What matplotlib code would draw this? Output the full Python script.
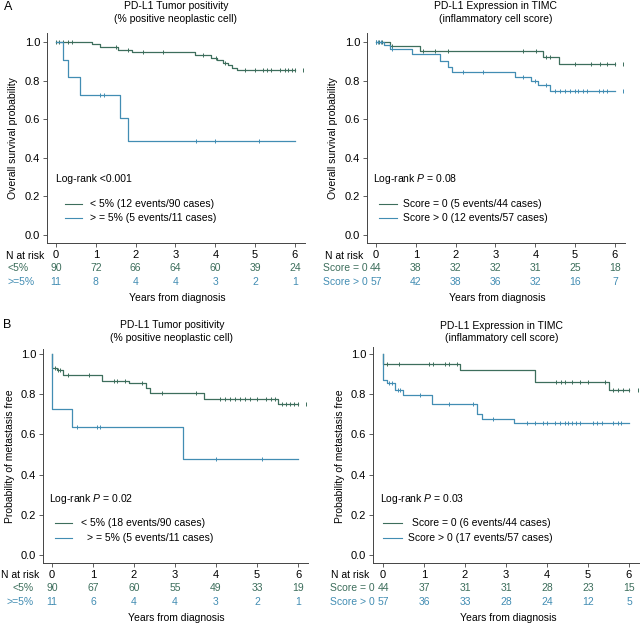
import numpy as np
import matplotlib
matplotlib.use("Agg")
import matplotlib.pyplot as plt
from matplotlib.lines import Line2D
from matplotlib.transforms import blended_transform_factory

plt.rcParams['font.family'] = ['Liberation Sans', 'DejaVu Sans']
plt.rcParams['font.size'] = 7.5
plt.rcParams['mathtext.fontset'] = 'custom'
plt.rcParams['mathtext.rm'] = 'Liberation Sans'
plt.rcParams['mathtext.it'] = 'Liberation Sans:italic'

GREEN = "#3d6e5c"
BLUE = "#428db3"

years = [0, 1, 2, 3, 4, 5, 6]

# --- A left: overall survival by tumour positivity
a_lo_t = [0, 0.9, 1.1, 1.56, 1.9, 3.49, 3.89, 4.03, 4.2, 4.31, 4.43, 4.55, 6.0]
a_lo_s = [1.0, 0.988, 0.972, 0.958, 0.946, 0.932, 0.918, 0.906, 0.892, 0.88, 0.866, 0.854, 0.854]
a_lo_c = [0, 0.08, 0.18, 0.29, 0.39, 1.51, 1.8, 2.19, 2.69, 3.7, 4.02, 4.25, 4.74, 5.0,
          5.2, 5.29, 5.41, 5.62, 5.75, 5.83, 5.93, 6.0, 6.21]
a_hi_t = [0, 0.18, 0.31, 0.6, 1.61, 1.8, 6.0]
a_hi_s = [1.0, 0.909, 0.818, 0.727, 0.606, 0.485, 0.485]
a_hi_c = [1.1, 1.2, 3.51, 4.0, 5.1]
a_lo_risk = [90, 72, 66, 64, 60, 39, 24]
a_hi_risk = [11, 8, 4, 4, 3, 2, 1]

# --- A right: overall survival by TIMC score
a_s0_t = [0, 0.35, 1.1, 4.2, 4.6, 6.0]
a_s0_s = [1.0, 0.977, 0.953, 0.922, 0.886, 0.886]
a_s0_c = [0, 0.08, 0.15, 0.4, 1.19, 1.48, 1.8, 3.7, 4.02, 4.28, 4.36, 5.0, 5.41,
          5.62, 5.8, 6.0, 6.21]
a_sp_t = [0, 0.2, 0.35, 0.9, 1.6, 1.8, 1.9, 3.49, 3.9, 4.06, 4.38, 6.0]
a_sp_s = [1.0, 0.982, 0.965, 0.936, 0.9, 0.87, 0.843, 0.82, 0.80, 0.775, 0.745, 0.745]
a_sp_c = [0, 0.05, 0.12, 0.4, 2.19, 2.69, 3.7, 3.98, 4.28, 4.5, 4.62, 4.75, 4.87,
          5.0, 5.08, 5.2, 5.29, 5.6, 5.69, 5.79, 6.21]
a_s0_risk = [44, 38, 32, 32, 31, 25, 18]
a_sp_risk = [57, 42, 38, 36, 32, 16, 7]

# --- B left: metastasis free by tumour positivity
b_lo_t = [0, 0, 0.12, 0.28, 1.22, 1.89, 2.3, 2.39, 3.71, 5.51, 6.0]
b_lo_s = [1.0, 0.932, 0.92, 0.895, 0.866, 0.854, 0.829, 0.807, 0.778, 0.751, 0.751]
b_lo_c = [0.08, 0.14, 0.2, 0.39, 0.91, 1.5, 1.58, 1.78, 2.19, 2.69, 3.51, 4.1, 4.22,
          4.34, 4.46, 4.58, 4.7, 4.82, 4.99, 5.23, 5.33, 5.43, 5.6, 5.7, 5.8, 5.9, 6.0, 6.2]
b_hi_t = [0, 0, 0.49, 3.2, 6.0]
b_hi_s = [1.0, 0.727, 0.636, 0.477, 0.477]
b_hi_c = [0.61, 1.09, 1.18, 4.01, 5.13]
b_lo_risk = [90, 67, 60, 55, 49, 33, 19]
b_hi_risk = [11, 6, 4, 4, 3, 2, 1]

# --- B right: metastasis free by TIMC score
b_s0_t = [0, 0, 1.88, 3.71, 5.5, 6.0]
b_s0_s = [1.0, 0.95, 0.918, 0.863, 0.82, 0.82]
b_s0_c = [0.1, 0.4, 1.11, 1.23, 1.52, 1.6, 1.8, 4.22, 4.33, 4.44, 4.6, 4.8, 5.0,
          5.41, 5.61, 5.73, 5.86, 6.0, 6.22]
b_sp_t = [0, 0, 0.1, 0.3, 0.49, 1.19, 2.29, 2.41, 3.2, 6.0]
b_sp_s = [1.0, 0.873, 0.857, 0.821, 0.796, 0.749, 0.70, 0.676, 0.655, 0.655]
b_sp_c = [0.14, 0.22, 0.36, 0.42, 0.91, 1.6, 2.19, 2.69, 3.5, 3.7, 3.9, 4.0, 4.2,
          4.32, 4.44, 4.52, 4.6, 4.7, 4.8, 5.13, 5.23, 5.33, 5.61, 5.72, 5.81]
b_s0_risk = [44, 37, 31, 31, 28, 23, 15]
b_sp_risk = [57, 36, 33, 28, 24, 12, 5]

W, H = 640, 624
fig = plt.figure(figsize=(6.4, 6.24), dpi=100)


def fx(x):
    return x / W


def fy(y):
    return 1 - y / H


def km(ax, t, s, cens, color):
    ax.step(t, s, where='post', color=color, lw=0.9)
    t = np.asarray(t)
    s = np.asarray(s)
    idx = np.searchsorted(t, cens, side='right') - 1
    ax.plot(cens, s[idx], ls='none', marker='|', ms=3.5, mew=0.7, color=color)


def panel(left, top, right, bottom, x0, pxyr, y1, y0):
    ax = fig.add_axes([fx(left), fy(bottom), (right - left) / W, (bottom - top) / H])
    ax.set_xlim((left - x0) / pxyr, (right - x0) / pxyr)
    ax.set_ylim((y0 - bottom) / (y0 - y1), (y0 - top) / (y0 - y1))
    ax.set_xticks(years)
    ax.set_yticks([0, 0.2, 0.4, 0.6, 0.8, 1.0])
    ax.set_yticklabels(["0.0", "0.2", "0.4", "0.6", "0.8", "1.0"])
    for sp in ['top', 'right']:
        ax.spines[sp].set_visible(False)
    for sp in ['left', 'bottom']:
        ax.spines[sp].set_linewidth(0.7)
        ax.spines[sp].set_color("#444444")
    ax.tick_params(length=3, width=0.6, color="#444444", pad=2, labelsize=8)
    return ax


def risk_row(ax, counts, ypx, color):
    tr = blended_transform_factory(ax.transData, fig.transFigure)
    for x, n in zip(years, counts):
        ax.text(x, fy(ypx), str(n), transform=tr, ha='center', va='center', color=color)


def legend_line(x1, x2, ypx, color):
    fig.add_artist(Line2D([fx(x1), fx(x2)], [fy(ypx), fy(ypx)], color=color, lw=0.8,
                          transform=fig.transFigure))


# ---------------- Panel A ----------------
fig.text(fx(4), fy(7), "A", fontsize=9, va='center')

ax1 = panel(47, 33, 305, 243, 56, 39.83, 42, 235)
km(ax1, a_lo_t, a_lo_s, a_lo_c, GREEN)
km(ax1, a_hi_t, a_hi_s, a_hi_c, BLUE)
fig.text(fx(176), fy(6), "PD-L1 Tumor positivity", ha='center', va='center')
fig.text(fx(176), fy(19), "(% positive neoplastic cell)", ha='center', va='center')
fig.text(fx(13), fy(138), "Overall survival probability", rotation=90, ha='center', va='center')
fig.text(fx(56), fy(179), "Log-rank <0.001", va='center')
legend_line(65, 82, 204, GREEN)
legend_line(65, 82, 218, BLUE)
fig.text(fx(90), fy(204), "< 5% (12 events/90 cases)", va='center')
fig.text(fx(90), fy(218), "> = 5% (5 events/11 cases)", va='center')
fig.text(fx(44), fy(256), "N at risk", ha='right', va='center')
fig.text(fx(7), fy(268), "<5%", va='center', color=GREEN)
fig.text(fx(7), fy(282), ">=5%", va='center', color=BLUE)
risk_row(ax1, a_lo_risk, 268, GREEN)
risk_row(ax1, a_hi_risk, 282, BLUE)
fig.text(fx(177), fy(298), "Years from diagnosis", ha='center', va='center')

ax2 = panel(367, 33, 625, 243, 376, 39.83, 42, 235)
km(ax2, a_s0_t, a_s0_s, a_s0_c, GREEN)
km(ax2, a_sp_t, a_sp_s, a_sp_c, BLUE)
fig.text(fx(496), fy(6), "PD-L1 Expression in TIMC", ha='center', va='center')
fig.text(fx(496), fy(19), "(inflammatory cell score)", ha='center', va='center')
fig.text(fx(333), fy(138), "Overall survival probability", rotation=90, ha='center', va='center')
fig.text(fx(373), fy(179), r"Log-rank $P$ = 0.08", va='center')
legend_line(379, 397, 204, GREEN)
legend_line(379, 397, 218, BLUE)
fig.text(fx(403), fy(204), "Score = 0 (5 events/44 cases)", va='center')
fig.text(fx(403), fy(218), "Score > 0 (12 events/57 cases)", va='center')
fig.text(fx(363), fy(256), "N at risk", ha='right', va='center')
fig.text(fx(368), fy(268), "Score = 0", ha='right', va='center', color=GREEN)
fig.text(fx(368), fy(282), "Score > 0", ha='right', va='center', color=BLUE)
risk_row(ax2, a_s0_risk, 268, GREEN)
risk_row(ax2, a_sp_risk, 282, BLUE)
fig.text(fx(497), fy(298), "Years from diagnosis", ha='center', va='center')

# ---------------- Panel B ----------------
fig.text(fx(3), fy(325), "B", fontsize=9, va='center')

ax3 = panel(43, 349, 308, 563, 52, 41, 354, 555)
km(ax3, b_lo_t, b_lo_s, b_lo_c, GREEN)
km(ax3, b_hi_t, b_hi_s, b_hi_c, BLUE)
fig.text(fx(172), fy(325), "PD-L1 Tumor positivity", ha='center', va='center')
fig.text(fx(172), fy(338), "(% positive neoplastic cell)", ha='center', va='center')
fig.text(fx(10), fy(456), "Probability of metastasis free", rotation=90, ha='center', va='center')
fig.text(fx(49), fy(499), r"Log-rank $P$ = 0.02", va='center')
legend_line(55, 72, 523, GREEN)
legend_line(55, 72, 538, BLUE)
fig.text(fx(81), fy(523), "< 5% (18 events/90 cases)", va='center')
fig.text(fx(87), fy(538), "> = 5% (5 events/11 cases)", va='center')
fig.text(fx(39), fy(575), "N at risk", ha='right', va='center')
fig.text(fx(34), fy(588), "<5%", ha='right', va='center', color=GREEN)
fig.text(fx(34), fy(602), ">=5%", ha='right', va='center', color=BLUE)
risk_row(ax3, b_lo_risk, 588, GREEN)
risk_row(ax3, b_hi_risk, 602, BLUE)
fig.text(fx(176), fy(618), "Years from diagnosis", ha='center', va='center')

ax4 = panel(373, 347, 639, 563, 383, 41, 354, 555)
km(ax4, b_s0_t, b_s0_s, b_s0_c, GREEN)
km(ax4, b_sp_t, b_sp_s, b_sp_c, BLUE)
fig.text(fx(502), fy(326), "PD-L1 Expression in TIMC", ha='center', va='center')
fig.text(fx(502), fy(338), "(inflammatory cell score)", ha='center', va='center')
fig.text(fx(340), fy(456), "Probability of metastasis free", rotation=90, ha='center', va='center')
fig.text(fx(380), fy(499), r"Log-rank $P$ = 0.03", va='center')
legend_line(383, 402, 523, GREEN)
legend_line(383, 402, 538, BLUE)
fig.text(fx(412), fy(523), "Score = 0 (6 events/44 cases)", va='center')
fig.text(fx(408), fy(538), "Score > 0 (17 events/57 cases)", va='center')
fig.text(fx(369), fy(575), "N at risk", ha='right', va='center')
fig.text(fx(375), fy(588), "Score = 0", ha='right', va='center', color=GREEN)
fig.text(fx(375), fy(602), "Score > 0", ha='right', va='center', color=BLUE)
risk_row(ax4, b_s0_risk, 588, GREEN)
risk_row(ax4, b_sp_risk, 602, BLUE)
fig.text(fx(508), fy(618), "Years from diagnosis", ha='center', va='center')

fig.savefig("out.png", dpi=100)
